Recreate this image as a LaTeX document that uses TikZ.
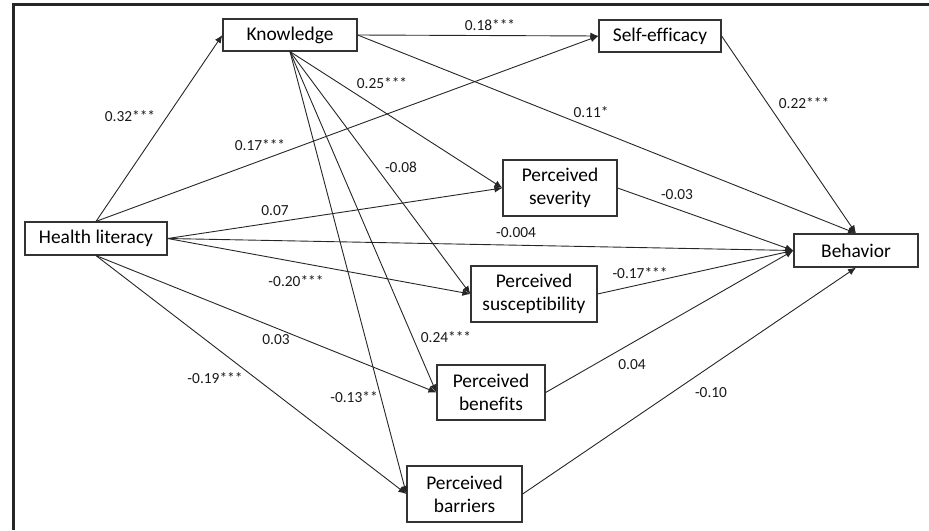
\documentclass[tikz,border=0pt]{standalone}
\usepackage{fontspec}
\setmainfont{Carlito}[Ligatures=NoCommon]
\usetikzlibrary{arrows.meta}

\begin{document}
\begin{tikzpicture}[
        x=0.5pt, y=-0.5pt,
        var/.style={draw=black!80, fill=white, line width=0.6pt, inner sep=0pt,
            align=center, font=\fontsize{9.7}{11.5}\selectfont},
        effect/.style={-{Latex[length=4pt,width=3.4pt]}, line width=0.45pt, draw=black!85},
        coef/.style={inner sep=0pt, text=black!90, font=\fontsize{7.7}{9}\selectfont}
    ]
    \useasboundingbox (0,0) rectangle (929,530);

    % Rahmen
    \draw[line width=1.5pt, black!85] (13,530) -- (13,4) -- (929,4);

    % Variablen
    \node[var, minimum width=67pt, minimum height=16pt] (kn) at (290, 35) {Knowledge};
    \node[var, minimum width=61pt, minimum height=16pt] (se) at (660, 36) {Self-efficacy};
    \node[var, minimum width=71pt, minimum height=16.5pt] (hl) at (96, 238.5) {Health literacy};
    \node[var, minimum width=57pt, minimum height=28pt] (sev) at (560, 188) {Perceived\\severity};
    \node[var, minimum width=62pt, minimum height=16.5pt] (bh) at (856, 250.5) {Behavior};
    \node[var, minimum width=63pt, minimum height=28pt] (sus) at (534, 294) {Perceived\\susceptibility};
    \node[var, minimum width=54pt, minimum height=27.5pt] (ben) at (491, 392.5) {Perceived\\benefits};
    \node[var, minimum width=57.5pt, minimum height=28pt] (bar) at (464.5, 494) {Perceived\\barriers};

    % Pfade von Health literacy
    \draw[effect] (hl.north) -- (kn.west);
    \draw[effect] (hl.north) -- (se.west);
    \draw[effect] (hl.east) -- (sev.west);
    \draw[effect] (hl.east) -- (bh.west);
    \draw[effect] (hl.east) -- (sus.west);
    \draw[effect] (hl.south) -- (ben.west);
    \draw[effect] (hl.south) -- (bar.west);

    % Pfade von Knowledge
    \draw[effect] (kn.east) -- (se.west);
    \draw[effect] (kn.east) -- (bh.north);
    \draw[effect] (kn.south) -- (sev.west);
    \draw[effect] (kn.south) -- (sus.west);
    \draw[effect] (kn.south) -- (ben.west);
    \draw[effect] (kn.south) -- (bar.west);

    % Pfade zu Behavior
    \draw[effect] (se.east) -- (bh.north);
    \draw[effect] (sev.east) -- (bh.west);
    \draw[effect] (sus.east) -- (bh.west);
    \draw[effect] (ben.east) -- (bh.west);
    \draw[effect] (bar.east) -- (bh.south);

    % Koeffizienten
    \node[coef] (c1) at (130, 116) {0.32***};
    \node[coef] (c2) at (260, 145) {0.17***};
    \node[coef] (c3) at (275, 211) {0.07};
    \node[coef] (c4) at (516, 233) {-0.004};
    \node[coef] (c5) at (296, 281) {-0.20***};
    \node[coef] (c6) at (276, 340) {0.03};
    \node[coef] (c7) at (215, 378) {-0.19***};
    \node[coef] (c8) at (490, 25) {0.18***};
    \node[coef] (c9) at (591, 112) {0.11*};
    \node[coef] (c10) at (382, 83) {0.25***};
    \node[coef] (c11) at (401, 167) {-0.08};
    \node[coef] (c12) at (446, 337) {0.24***};
    \node[coef] (c13) at (354, 397) {-0.13**};
    \node[coef] (c14) at (804, 103) {0.22***};
    \node[coef] (c15) at (677, 195) {-0.03};
    \node[coef] (c16) at (640, 273) {-0.17***};
    \node[coef] (c17) at (632, 365) {0.04};
    \node[coef] (c18) at (711, 393) {-0.10};
\end{tikzpicture}
\end{document}
